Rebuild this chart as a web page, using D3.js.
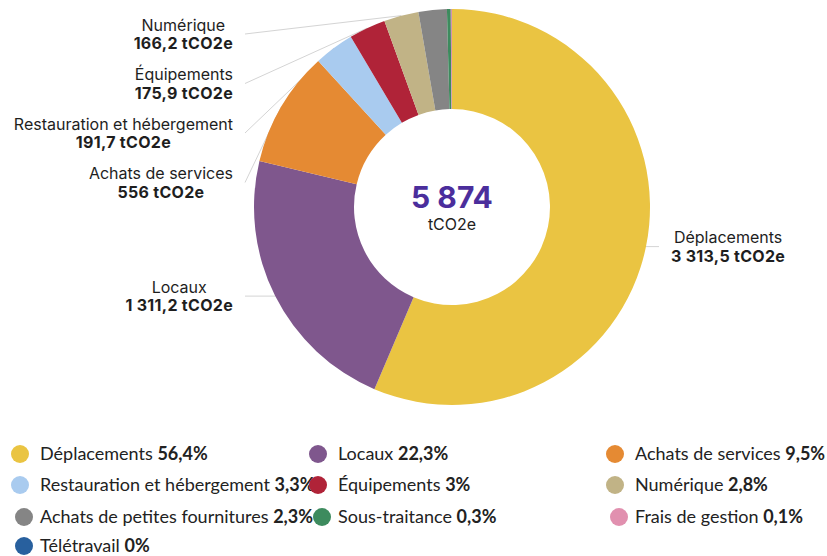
<!DOCTYPE html>
<html><head><meta charset="utf-8">
<script src="https://cdn.jsdelivr.net/npm/d3@7"></script>
<style>
html,body{margin:0;padding:0;background:#fff;}
svg{display:block;}
</style></head>
<body>
<svg id="chart" width="827" height="556"></svg>
<script>
const categories = ["Déplacements","Locaux","Achats de services","Restauration et hébergement","Équipements","Numérique","Achats de petites fournitures","Sous-traitance","Frais de gestion","Télétravail"];
const values = [3313.5, 1311.2, 556, 191.7, 175.9, 166.2, 135.5, 18, 5.5, 0.5];
const valueLabels = ["3 313,5","1 311,2","556","191,7","175,9","166,2","","","",""];
const percentLabels = ["56,4%","22,3%","9,5%","3,3%","3%","2,8%","2,3%","0,3%","0,1%","0%"];
const colors = ["#EAC442","#7F578D","#E58A33","#A9CBEF","#B02338","#C1B386","#858585","#3D8B5E","#E190AF","#28609E"];
const totalLabel = "5 874";
const unit = "tCO2e";
const labelled = [0,1,2,3,4,5];

const svg = d3.select("#chart");
const cx = 452, cy = 207, R = 198, r0 = 98;
const data = categories.map((c,i)=>({name:c, value:values[i], color:colors[i], i}));
const pie = d3.pie().sort(null).value(d=>d.value);
const arcs = pie(data);
const arc = d3.arc().innerRadius(r0).outerRadius(R);

const lineG = svg.append("g");
const pieG = svg.append("g").attr("transform",`translate(${cx},${cy})`);
pieG.selectAll("path").data(arcs).enter().append("path")
  .attr("d",arc).attr("fill",d=>d.data.color);

// center text
svg.append("text").attr("x",cx).attr("y",cy+1).attr("text-anchor","middle")
  .attr("font-family","Inter, sans-serif").attr("font-weight",700).attr("font-size",30)
  .attr("fill","#4B2E9C").text(totalLabel);
svg.append("text").attr("x",cx).attr("y",cy+23).attr("text-anchor","middle")
  .attr("font-family","Inter, sans-serif").attr("font-size",16)
  .attr("fill","#222").text(unit);

// outer labels
const labG = svg.append("g").attr("font-family","Inter, sans-serif").attr("font-size",16).attr("fill","#1e1e1e");
const items = labelled.map(i=>{
  const a = arcs[i];
  const mid = (a.startAngle+a.endAngle)/2;
  return {i, mid, px: cx + R*Math.sin(mid), py: cy - R*Math.cos(mid), right: Math.sin(mid) > 0};
});
const left = items.filter(d=>!d.right).sort((a,b)=>a.py-b.py);
let prev = -Infinity;
left.forEach(d=>{ d.y = Math.max(d.py, 34, prev + 49.5); prev = d.y; });
items.filter(d=>d.right).forEach(d=>{ d.y = d.py; });

items.forEach(d=>{
  const g = labG.append("g");
  const t1 = g.append("text").attr("y",d.y-3.5).attr("text-anchor","middle").text(categories[d.i]);
  const t2 = g.append("text").attr("y",d.y+15).attr("text-anchor","middle").attr("font-weight",700)
    .attr("letter-spacing",0.3).text(valueLabels[d.i]+" "+unit);
  const w = Math.max(t1.node().getComputedTextLength(), t2.node().getComputedTextLength());
  let xc, lx;
  if(d.right){ const x0 = 671; xc = x0 + w/2; lx = x0 - 12; }
  else { const x1 = 233; xc = x1 - w/2; lx = x1 + 12; }
  t1.attr("x",xc); t2.attr("x",xc);
  lineG.append("line").attr("x1",lx).attr("y1",d.y).attr("x2",d.px).attr("y2",d.py)
    .attr("stroke","#d4d4d4").attr("stroke-width",1);
});

// legend
const colX = [40, 338, 635];
const rowY = [454, 485, 517, 546];
const leg = svg.append("g").attr("font-family","Lato, sans-serif").attr("font-size",18).attr("fill","#222");
data.forEach((d,i)=>{
  const c = i%3, rr = Math.floor(i/3);
  const tx = colX[c], ty = rowY[rr];
  const off = rr < 2 ? 20 : 16;
  leg.append("circle").attr("cx",tx-off).attr("cy",ty).attr("r",9).attr("fill",d.color);
  const t = leg.append("text").attr("x",tx).attr("y",ty+5.5);
  t.append("tspan").text(d.name+" ");
  t.append("tspan").attr("font-weight",700).text(percentLabels[i]);
});
</script>
</body></html>
